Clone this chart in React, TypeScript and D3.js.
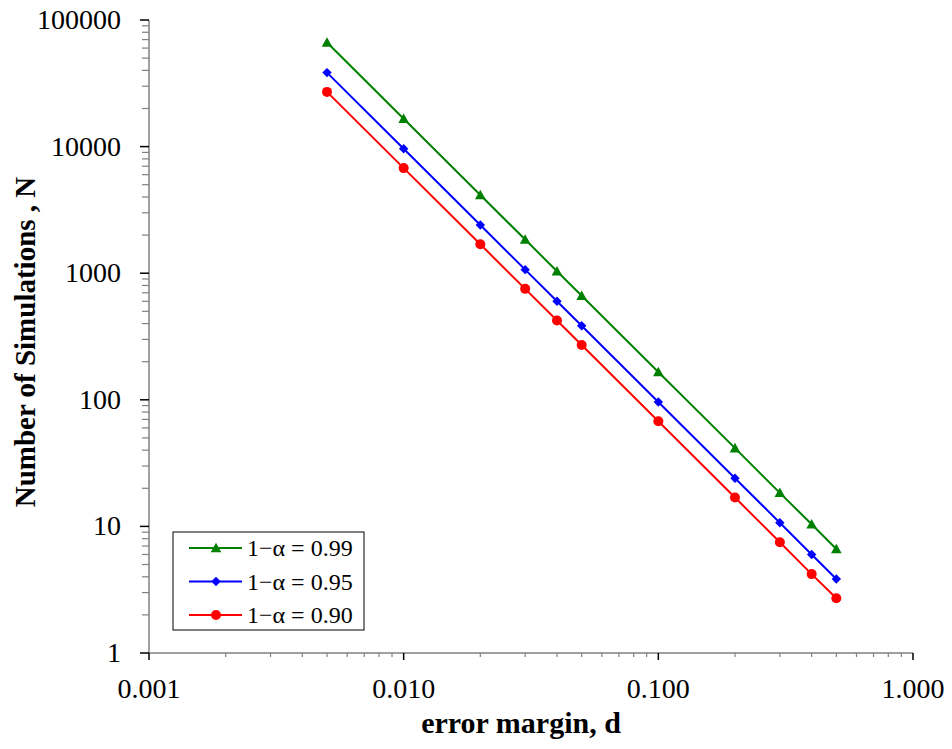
import React from "react";
import * as d3 from "d3";

const xValues = [0.005, 0.01, 0.02, 0.03, 0.04, 0.05, 0.1, 0.2, 0.3, 0.4, 0.5];
const n99 = [66349, 16587, 4147, 1843, 1037, 663, 166, 41.5, 18.4, 10.4, 6.63];
const n95 = [38415, 9604, 2401, 1067, 600, 384, 96, 24.0, 10.7, 6.0, 3.84];
const n90 = [27055, 6764, 1691, 752, 423, 271, 67.6, 16.9, 7.5, 4.2, 2.71];
const seriesLabels = ["1\u2212\u03b1 = 0.99", "1\u2212\u03b1 = 0.95", "1\u2212\u03b1 = 0.90"];
const xTickValues = [0.001, 0.01, 0.1, 1];
const xTickLabels = ["0.001", "0.010", "0.100", "1.000"];
const yTickValues = [1, 10, 100, 1000, 10000, 100000];
const yTickLabels = ["1", "10", "100", "1000", "10000", "100000"];

const W = 952;
const H = 749;
const FONT = "'Liberation Serif', 'Times New Roman', serif";

export default function App() {
  const x = d3.scaleLog().domain([0.001, 1]).range([149, 913]);
  const y = d3.scaleLog().domain([1, 100000]).range([653, 20]);

  const series = [
    { label: seriesLabels[0], values: n99, color: "#008000", marker: "triangle" },
    { label: seriesLabels[1], values: n95, color: "#0000FF", marker: "diamond" },
    { label: seriesLabels[2], values: n90, color: "#FF0000", marker: "circle" },
  ];

  const line = d3
    .line<[number, number]>()
    .x((d) => x(d[0]))
    .y((d) => y(d[1]));

  const marker = (type: string, cx: number, cy: number, color: string, key: string | number) => {
    if (type === "triangle") {
      const s = 5.3;
      return (
        <path
          key={key}
          d={`M${cx},${cy - s} L${cx + s},${cy + s * 0.8} L${cx - s},${cy + s * 0.8} Z`}
          fill={color}
        />
      );
    }
    if (type === "diamond") {
      const s = 4.7;
      return (
        <path
          key={key}
          d={`M${cx},${cy - s} L${cx + s},${cy} L${cx},${cy + s} L${cx - s},${cy} Z`}
          fill={color}
        />
      );
    }
    return <circle key={key} cx={cx} cy={cy} r={5} fill={color} />;
  };

  const xMinor: number[] = [];
  for (let dec = 0.001; dec < 1; dec *= 10) {
    for (let k = 2; k <= 9; k++) xMinor.push(dec * k);
  }
  const yMinor: number[] = [];
  for (let dec = 1; dec < 100000; dec *= 10) {
    for (let k = 2; k <= 9; k++) yMinor.push(dec * k);
  }

  const legendX = 173;
  const legendY = 532;
  const legendW = 191;
  const legendH = 98;

  return (
    <svg width={W} height={H} style={{ position: "absolute", left: 0, top: 0, background: "#fff" }}>
      <rect x={0} y={0} width={W} height={H} fill="#fff" />
      <line x1={149} x2={913} y1={653} y2={653} stroke="#808080" strokeWidth={1.5} />
      <line x1={149} x2={149} y1={20} y2={653} stroke="#808080" strokeWidth={1.5} />
      {xMinor.map((v, i) => (
        <line key={"xm" + i} x1={x(v)} x2={x(v)} y1={653} y2={657} stroke="#808080" strokeWidth={1.2} />
      ))}
      {xTickValues.map((v, i) => (
        <line key={"xM" + i} x1={x(v)} x2={x(v)} y1={653} y2={660} stroke="#000" strokeWidth={1.5} />
      ))}
      {yMinor.map((v, i) => (
        <line key={"ym" + i} x1={142} x2={149} y1={y(v)} y2={y(v)} stroke="#808080" strokeWidth={1.2} />
      ))}
      {yTickValues.map((v, i) => (
        <line key={"yM" + i} x1={140} x2={149} y1={y(v)} y2={y(v)} stroke="#000" strokeWidth={1.5} />
      ))}
      {xTickValues.map((v, i) => (
        <text
          key={"xl" + i}
          x={x(v)}
          y={698}
          textAnchor="middle"
          fontFamily={FONT}
          fontSize={28}
          fill="#000"
        >
          {xTickLabels[i]}
        </text>
      ))}
      {yTickValues.map((v, i) => (
        <text
          key={"yl" + i}
          x={121}
          y={y(v) + 9}
          textAnchor="end"
          fontFamily={FONT}
          fontSize={28}
          fill="#000"
        >
          {yTickLabels[i]}
        </text>
      ))}
      <text
        x={521}
        y={733}
        textAnchor="middle"
        fontFamily={FONT}
        fontWeight="bold"
        fontSize={30}
        fill="#000"
      >
        error margin, d
      </text>
      <text
        transform="translate(35,342) rotate(-90)"
        textAnchor="middle"
        fontFamily={FONT}
        fontWeight="bold"
        fontSize={29}
        fill="#000"
      >
        Number of Simulations , N
      </text>
      {series.map((s, si) => (
        <g key={"s" + si}>
          <path
            d={line(xValues.map((xv, i) => [xv, s.values[i]] as [number, number])) || ""}
            fill="none"
            stroke={s.color}
            strokeWidth={2}
          />
          {xValues.map((xv, i) => marker(s.marker, x(xv), y(s.values[i]), s.color, i))}
        </g>
      ))}
      <rect x={legendX} y={legendY} width={legendW} height={legendH} fill="#fff" stroke="#000" strokeWidth={1} />
      {series.map((s, si) => {
        const ly = legendY + 16 + si * 33.5;
        return (
          <g key={"l" + si}>
            <line x1={189} x2={242} y1={ly} y2={ly} stroke={s.color} strokeWidth={2} />
            {marker(s.marker, 216, ly, s.color, "m")}
            <text x={247} y={ly + 8} fontFamily={FONT} fontSize={24} fill="#000">
              {s.label}
            </text>
          </g>
        );
      })}
    </svg>
  );
}
